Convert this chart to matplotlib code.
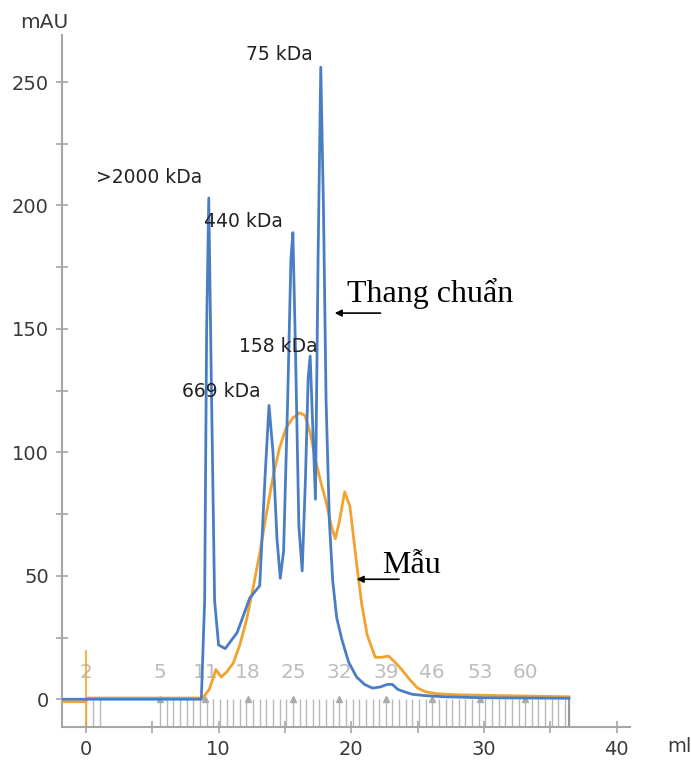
import numpy as np
import matplotlib
matplotlib.use('Agg')
import matplotlib.pyplot as plt

# standard ladder (Thang chuan) - elution volume (ml) vs absorbance (mAU)
std_ml = [-1.8, 8.7, 8.95, 9.1, 9.26, 9.45, 9.7, 10.0, 10.5, 11.4, 12.35, 12.8, 13.1,
          13.5, 13.8, 14.1, 14.4, 14.65, 14.9, 15.2, 15.45, 15.6, 15.8, 16.05, 16.3,
          16.55, 16.75, 16.9, 17.1, 17.3, 17.5, 17.7, 17.9, 18.1, 18.35, 18.6, 18.9,
          19.3, 19.8, 20.4, 21.0, 21.6, 22.2, 22.7, 23.1, 23.5, 24.0, 24.6, 25.5,
          27.0, 30.0, 33.0, 36.4]
std_mau = [0, 0, 40, 150, 203, 130, 40, 22, 20.5, 27, 41, 44, 46,
           90, 119, 100, 65, 49, 60, 120, 178, 189, 140, 70, 52,
           90, 130, 139, 110, 81, 180, 256, 200, 121, 72, 48, 33,
           24, 15, 9, 6, 4.5, 5, 6, 6, 4, 3, 2, 1.5,
           1, 0.6, 0.5, 0.4]

# sample (Mau)
smp_ml = [-1.8, 0.0, 0.05, 8.8, 9.3, 9.8, 10.2, 10.6, 11.1, 11.6, 12.1, 12.6, 13.1,
          13.6, 14.1, 14.6, 15.1, 15.6, 16.1, 16.5, 16.9, 17.3, 17.7, 18.1, 18.5,
          18.8, 19.1, 19.5, 19.9, 20.4, 20.8, 21.2, 21.8, 22.3, 22.8, 23.3, 23.8,
          24.4, 25.0, 25.6, 26.5, 28.0, 31.0, 34.0, 36.4]
smp_mau = [-1, -1, 0.5, 0.5, 4, 12, 9, 11, 14.6, 22, 32, 45, 59,
           75, 90, 102, 110, 114, 116, 115, 108, 97, 88, 80, 70,
           65, 72, 84, 78, 55, 38, 26, 17, 17, 17.5, 15, 12,
           8, 4.5, 3, 2.2, 1.8, 1.5, 1.2, 1.0]

peak_labels = ['>2000 kDa', '440 kDa', '75 kDa', '158 kDa', '669 kDa']
peak_label_ml = [4.8, 11.9, 14.6, 14.5, 10.2]
peak_label_mau = [211.5, 193.3, 261, 143, 124.8]

frac_names = ['2', '5', '11', '18', '25', '32', '39', '46', '53', '60']
frac_ml = [0.0, 5.6, 9.0, 12.2, 15.6, 19.1, 22.6, 26.1, 29.7, 33.1]
frac_lines = [0.0, 0.5, 1.1] + [5.6 + 0.5 * k for k in range(62)] + [36.4]

blue = '#4a7ec4'
orange = '#f2a22e'
axcol = '#a6a6a6'
txtcol = '#3a3a3a'

fig = plt.figure(figsize=(6.91, 7.63), dpi=100)
ax = fig.add_axes([0.0897, 0.047, 0.822, 0.907])

# fraction markers under the baseline
ax.vlines(frac_lines, -11, 0, color='#b8b8b8', lw=1.0, zorder=1)
ax.vlines([36.4], -11, 0.5, color='#999999', lw=1.5, zorder=1)
ax.plot(frac_ml[1:], [0] * (len(frac_ml) - 1), ls='none', marker='^', ms=4,
        color='#aaaaaa', zorder=1)
for n, xm in zip(frac_names, frac_ml):
    ax.text(xm, 11, n, color='#bdbdbd', fontsize=14.5, ha='center', va='center',
            zorder=2)

# injection mark
ax.vlines([0], -11, 20, color=orange, lw=1.5, alpha=0.8, zorder=2)

ax.plot(smp_ml, smp_mau, color=orange, lw=2, zorder=3)
ax.plot(std_ml, std_mau, color=blue, lw=2, zorder=4)

for t, xm, ym in zip(peak_labels, peak_label_ml, peak_label_mau):
    ax.text(xm, ym, t, fontsize=13.5, color='#222222', ha='center', va='center',
            zorder=5)

ax.text(19.7, 164.5, 'Thang chuẩn', family='Liberation Serif', fontsize=23,
        ha='left', va='center')
ax.annotate('', xy=(18.75, 156.4), xytext=(22.2, 156.4),
            arrowprops=dict(arrowstyle='-|>', color='black', lw=1.2,
                            mutation_scale=10, shrinkA=0, shrinkB=0))
ax.text(22.3, 54.3, 'Mẫu', family='Liberation Serif', fontsize=23,
        ha='left', va='center')
ax.annotate('', xy=(20.4, 48.6), xytext=(23.6, 48.6),
            arrowprops=dict(arrowstyle='-|>', color='black', lw=1.2,
                            mutation_scale=10, shrinkA=0, shrinkB=0))

ax.set_xlim(-1.8, 41)
ax.set_ylim(-11.3, 269)
ax.set_xticks([0, 10, 20, 30, 40])
ax.set_xticks([5, 15, 25, 35], minor=True)
ax.set_yticks([0, 50, 100, 150, 200, 250])
ax.set_yticks([25, 75, 125, 175, 225], minor=True)
for s in ['top', 'right']:
    ax.spines[s].set_visible(False)
for s in ['left', 'bottom']:
    ax.spines[s].set_color(axcol)
    ax.spines[s].set_linewidth(1.5)
ax.tick_params(which='both', direction='inout', color=axcol, width=1.2,
               length=9, labelsize=14, labelcolor=txtcol)
ax.tick_params(axis='x', pad=5)
ax.tick_params(axis='y', pad=5)

fig.text(44 / 691, 1 - 22 / 763, 'mAU', fontsize=14.5, color=txtcol,
         ha='center', va='center')
fig.text(667 / 691, 1 - 747 / 763, 'ml', fontsize=14, color=txtcol,
         ha='left', va='center')

fig.savefig('out.png', dpi=100)
